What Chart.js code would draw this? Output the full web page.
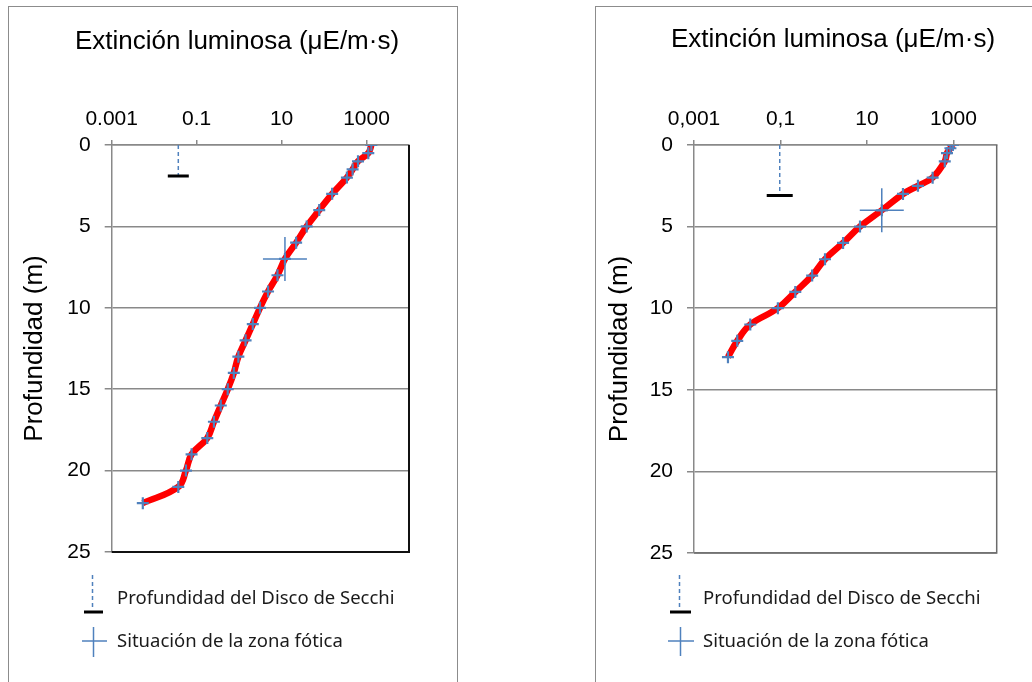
<!DOCTYPE html>
<html>
<head>
<meta charset="utf-8">
<script src="https://cdn.jsdelivr.net/npm/chart.js@4.4.1/dist/chart.umd.min.js"></script>
<style>
  body { margin:0; background:#fff; width:1032px; height:682px; overflow:hidden; position:relative; }
  .panel { position:absolute; top:6px; height:700px; border:1.5px solid #8c8c8c; box-sizing:border-box; }
  #panelLeft { left:8px; width:450px; }
  #panelRight { left:595px; width:460px; }
  canvas { position:absolute; top:7px; }
  #chartLeft { left:9px; }
  #chartRight { left:596px; }
  .key { position:absolute; font-family:"Noto Sans", sans-serif; font-size:18.5px; color:#1a1a1a; line-height:20px; white-space:nowrap; }
  #keys { position:absolute; left:0; top:0; }
</style>
</head>
<body>
<div class="panel" id="panelLeft"></div>
<div class="panel" id="panelRight"></div>
<canvas id="chartLeft" width="456" height="675"></canvas>
<canvas id="chartRight" width="474" height="675"></canvas>

<svg id="keys" width="1032" height="682">
  <g stroke="#4F81BD" stroke-width="1.5" fill="none">
    <line x1="92.5" y1="575" x2="92.5" y2="610" stroke-dasharray="4 3"/>
    <line x1="82" y1="641" x2="107" y2="641"/>
    <line x1="93.5" y1="627" x2="93.5" y2="657"/>
    <line x1="679.5" y1="575" x2="679.5" y2="610" stroke-dasharray="4 3"/>
    <line x1="668" y1="641" x2="694" y2="641"/>
    <line x1="680.5" y1="627" x2="680.5" y2="656"/>
  </g>
  <g stroke="#000" stroke-width="3">
    <line x1="84" y1="612" x2="103" y2="612"/>
    <line x1="670" y1="612" x2="691" y2="612"/>
  </g>
</svg>
<div class="key" style="left:117px; top:587px;">Profundidad del Disco de Secchi</div>
<div class="key" style="left:117px; top:630px;">Situación de la zona fótica</div>
<div class="key" style="left:703px; top:587px;">Profundidad del Disco de Secchi</div>
<div class="key" style="left:703px; top:630px;">Situación de la zona fótica</div>

<script>
// datos
var titleText = 'Extinción luminosa (μE/m·s)';
var depthTitle = 'Profundidad (m)';
var tickValues = [0.001, 0.1, 10, 1000];
var leftTickLabels = ['0.001', '0.1', '10', '1000'];
var rightTickLabels = ['0,001', '0,1', '10', '1000'];

var leftDepth = [0, 0.5, 1, 1.5, 2, 3, 4, 5, 6, 7, 8, 9, 10, 11, 12, 13, 14, 15, 16, 17, 18, 19, 20, 21, 22];
var leftLight = [1300, 1100, 630, 470, 345, 155, 77, 39, 22, 12, 8, 4.8, 3.1, 2.1, 1.42, 0.96, 0.75, 0.54, 0.37, 0.255, 0.178, 0.076, 0.056, 0.037, 0.0054];
var leftSecchi = [0.037, 1.9];   // [luz, profundidad]
var leftPhotic = [12, 7];

var rightDepth = [0, 0.2, 0.5, 1, 2, 2.5, 3, 4, 5, 6, 7, 8, 9, 10, 11, 12, 13];
var rightLight = [970, 850, 710, 630, 330, 151, 68, 22, 6.9, 2.8, 1.07, 0.54, 0.22, 0.087, 0.02, 0.01, 0.0061];
var rightSecchi = [0.096, 3.1];
var rightPhotic = [22, 4];

Chart.defaults.font.family = '"Liberation Sans", Arial, sans-serif';
Chart.defaults.color = '#000';

const plotBorder = {
    id: 'plotBorder',
    afterDraw(chart, args, opts) {
        const ctx = chart.ctx, a = chart.chartArea;
        ctx.save();
        ctx.strokeStyle = opts.color;
        ctx.lineWidth = opts.width;
        ctx.beginPath();
        ctx.moveTo(a.right, a.top);
        ctx.lineTo(a.right, a.bottom);
        ctx.lineTo(a.left, a.bottom);
        ctx.stroke();
        ctx.restore();
    }
};

function makeChart(id, s) {
    var curve = s.light.map(function (v, i) { return { x: v, y: s.depth[i] }; });
    return new Chart(document.getElementById(id), {
        type: 'scatter',
        data: {
            datasets: [
                {   // zona fotica
                    data: [{ x: s.photic[0], y: s.photic[1] }],
                    pointStyle: 'cross', pointRadius: 22,
                    pointBorderColor: '#4F81BD', pointBorderWidth: 1.5
                },
                {   // disco de Secchi: tope
                    data: [{ x: s.secchi[0], y: s.secchi[1] }],
                    pointStyle: 'line', pointRadius: s.capRadius,
                    pointBorderColor: '#000', pointBorderWidth: 3
                },
                {   // disco de Secchi: linea
                    data: [{ x: s.secchi[0], y: 0 }, { x: s.secchi[0], y: s.secchi[1] }],
                    showLine: true, borderColor: '#4F81BD', borderWidth: 1.5,
                    borderDash: [4, 3], pointRadius: 0
                },
                {
                    data: curve,
                    showLine: true, borderColor: '#FF0000', borderWidth: 6.5, tension: 0.4,
                    pointStyle: 'cross', pointRadius: 6,
                    pointBorderColor: '#4F81BD', pointBorderWidth: 2.2
                }
            ]
        },
        options: {
            responsive: false,
            animation: false,
            events: [],
            layout: { padding: { left: 0, top: 0, right: 0, bottom: s.padBottom } },
            plugins: {
                legend: { display: false },
                tooltip: { enabled: false },
                title: {
                    display: true, text: titleText, color: '#000',
                    font: { size: 26, weight: 'normal' },
                    padding: { top: s.titleTop, bottom: 0 }
                },
                plotBorder: { color: s.borderColor, width: s.borderWidth }
            },
            scales: {
                x: {
                    type: 'logarithmic', position: 'top', min: 0.001, max: 10000,
                    afterBuildTicks: function (sc) { sc.ticks = tickValues.map(function (v) { return { value: v }; }); },
                    afterFit: function (sc) { sc.height = s.xHeight; },
                    ticks: {
                        autoSkip: false, maxRotation: 0, padding: 8, font: { size: 21 },
                        callback: function (v, i) { return s.tickLabels[i]; }
                    },
                    grid: { drawOnChartArea: false, tickLength: 5, color: '#898989', lineWidth: 1.5 },
                    border: { color: '#898989', width: 1.5 }
                },
                y: {
                    type: 'linear', reverse: true, min: 0, max: 25,
                    afterFit: function (sc) { sc.width = s.yWidth; },
                    ticks: { stepSize: 5, padding: 14, font: { size: 21 } },
                    grid: { color: '#898989', lineWidth: 1.5, tickLength: 7 },
                    border: { color: '#898989', width: 1.5 },
                    title: {
                        display: true, text: depthTitle, color: '#000',
                        font: { size: 26 }, padding: { top: s.yTitlePad }
                    }
                },
                // espacio vacio a la derecha del grafico
                yPad: {
                    type: 'linear', position: 'right', min: 0, max: 25,
                    afterFit: function (sc) { sc.width = s.padRight; },
                    ticks: { display: false },
                    grid: { display: false },
                    border: { display: false }
                }
            }
        },
        plugins: [plotBorder]
    });
}

makeChart('chartLeft', {
    depth: leftDepth, light: leftLight, secchi: leftSecchi, photic: leftPhotic,
    tickLabels: leftTickLabels, capRadius: 10.5,
    titleTop: 19, xHeight: 87.8, yWidth: 102.7, yTitlePad: 10,
    padRight: 56, padBottom: 130, borderColor: '#111', borderWidth: 2
});

makeChart('chartRight', {
    depth: rightDepth, light: rightLight, secchi: rightSecchi, photic: rightPhotic,
    tickLabels: rightTickLabels, capRadius: 13,
    titleTop: 17, xHeight: 89.8, yWidth: 98, yTitlePad: 8,
    padRight: 73.3, padBottom: 129, borderColor: '#6b6b6b', borderWidth: 1.5
});
</script>
</body>
</html>
